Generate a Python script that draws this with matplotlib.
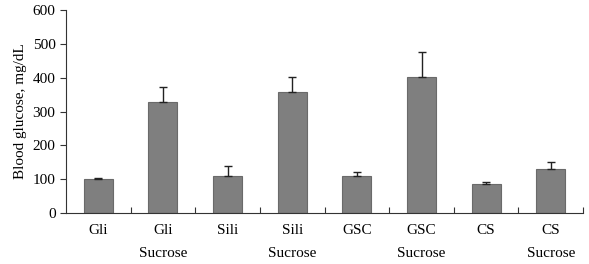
import numpy as np
import matplotlib.pyplot as plt
from matplotlib.ticker import FixedLocator

groups = ["Gli", "Gli\nSucrose", "Sili", "Sili\nSucrose", "GSC", "GSC\nSucrose", "CS", "CS\nSucrose"]
glucose = [100, 327, 110, 357, 110, 403, 86, 131]
err_up = [4, 47, 29, 44, 12, 74, 5, 21]

plt.rcParams["font.family"] = ["Liberation Serif", "DejaVu Serif"]

fig = plt.figure(figsize=(5.89, 2.64), dpi=100)
ax = fig.add_axes([0.112, 0.193, 0.878, 0.769])

x = np.arange(len(groups))
ax.bar(x, glucose, width=0.45, color="#7f7f7f", edgecolor="#6a6a6a", linewidth=0.8, zorder=2)
ax.errorbar(x, glucose, yerr=[np.zeros(len(err_up)), err_up], fmt="none",
            ecolor="#222222", elinewidth=1.0, capsize=3.2, capthick=1.0, zorder=3)

ax.set_xlim(-0.5, len(groups) - 0.5)
ax.set_ylim(0, 600)
ax.set_yticks(range(0, 601, 100))
ax.set_xticks(x)
ax.set_xticklabels(groups, linespacing=2.0, va="top")
ax.xaxis.set_minor_locator(FixedLocator(np.arange(0.5, len(groups), 1.0)))
ax.tick_params(axis="x", which="major", length=0, pad=8, labelsize=11)
ax.tick_params(axis="x", which="minor", direction="in", length=4, width=0.8, color="#333333")
ax.tick_params(axis="y", direction="out", length=4, width=0.8, color="#333333", labelsize=11)
ax.set_ylabel("Blood glucose, mg/dL", fontsize=11, labelpad=4)

for s in ["top", "right"]:
    ax.spines[s].set_visible(False)
for s in ["left", "bottom"]:
    ax.spines[s].set_color("#333333")
    ax.spines[s].set_linewidth(0.8)

fig.savefig("out.png", dpi=100)
